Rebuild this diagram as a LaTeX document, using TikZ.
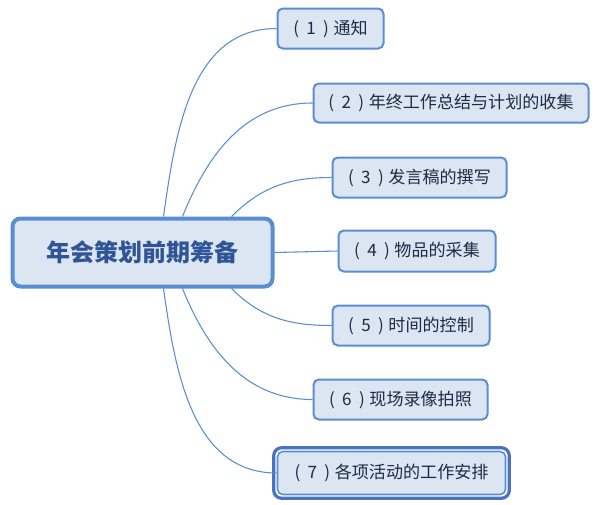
\documentclass[tikz,border=0pt]{standalone}
\usepackage{fontspec}
\newfontfamily\cjk{Noto Sans CJK SC}
\usetikzlibrary{calc}
\definecolor{bord}{HTML}{5B8DD3}
\definecolor{bordd}{HTML}{4A72C0}
\definecolor{boxfill}{HTML}{DCE6F2}
\definecolor{txt}{HTML}{1F2A44}
\definecolor{maintxt}{HTML}{2F5597}
\newcommand{\numlbl}[2]{(\hspace{5.5pt}#1\hspace{5.5pt})\hspace{3.5pt}#2}
\tikzset{
  child/.style={draw=bord, fill=boxfill, line width=1.5pt, rounded corners=4pt,
    inner sep=0pt, font=\cjk\fontsize{12.8pt}{14pt}\selectfont, text=txt},
  mainbox/.style={draw=bord, fill=boxfill, line width=3pt, rounded corners=6pt,
    inner sep=0pt, font=\cjk\bfseries\fontsize{18pt}{20pt}\selectfont, text=maintxt},
  link/.style={draw=bord, line width=0.8pt}
}
\begin{document}
\begin{tikzpicture}[x=0.75pt,y=-0.75pt]
\useasboundingbox (0,0) rectangle (598,504);
\node[mainbox, minimum width=260*0.75pt, minimum height=68*0.75pt] (m) at (142.5,252.5) {年会策划前期筹备};
\node[child, minimum width=106*0.75pt, minimum height=40*0.75pt] (c1) at (330.5,28.5) {\numlbl{1}{通知}};
\node[child, minimum width=275*0.75pt, minimum height=39*0.75pt] (c2) at (451,103) {\numlbl{2}{年终工作总结与计划的收集}};
\node[child, minimum width=174*0.75pt, minimum height=40*0.75pt] (c3) at (419.5,177.5) {\numlbl{3}{发言稿的撰写}};
\node[child, minimum width=157*0.75pt, minimum height=41*0.75pt] (c4) at (417,251) {\numlbl{4}{物品的采集}};
\node[child, minimum width=157*0.75pt, minimum height=40*0.75pt] (c5) at (411,325.5) {\numlbl{5}{时间的控制}};
\node[child, minimum width=174*0.75pt, minimum height=40*0.75pt] (c6) at (400.5,399.5) {\numlbl{6}{现场录像拍照}};
\node[child, minimum width=228*0.75pt, minimum height=43*0.75pt, line width=1.2pt] (c7) at (391.5,473) {\numlbl{7}{各项活动的工作安排}};
\draw[bordd, line width=2.4pt, rounded corners=6pt] ($(c7.north west)+(-3,-3)$) rectangle ($(c7.south east)+(3,3)$);
\coordinate (s1) at ($(m.north west)+(153,0)$);
\coordinate (s2) at ($(m.north west)+(172,0)$);
\coordinate (s3) at ($(m.north west)+(221,0)$);
\coordinate (t5) at ($(m.south west)+(221,0)$);
\coordinate (t6) at ($(m.south west)+(172,0)$);
\coordinate (t7) at ($(m.south west)+(153,0)$);
\draw[link] (s1) to[out=82, in=180] (c1.west);
\draw[link] (s2) to[out=68, in=180] (c2.west);
\draw[link] (s3) to[out=45, in=180] (c3.west);
\draw[link] (m.east) -- (c4.west);
\draw[link] (t5) to[out=-45, in=180] (c5.west);
\draw[link] (t6) to[out=-68, in=180] (c6.west);
\draw[link] (t7) to[out=-82, in=180] (c7.west);
\end{tikzpicture}
\end{document}
